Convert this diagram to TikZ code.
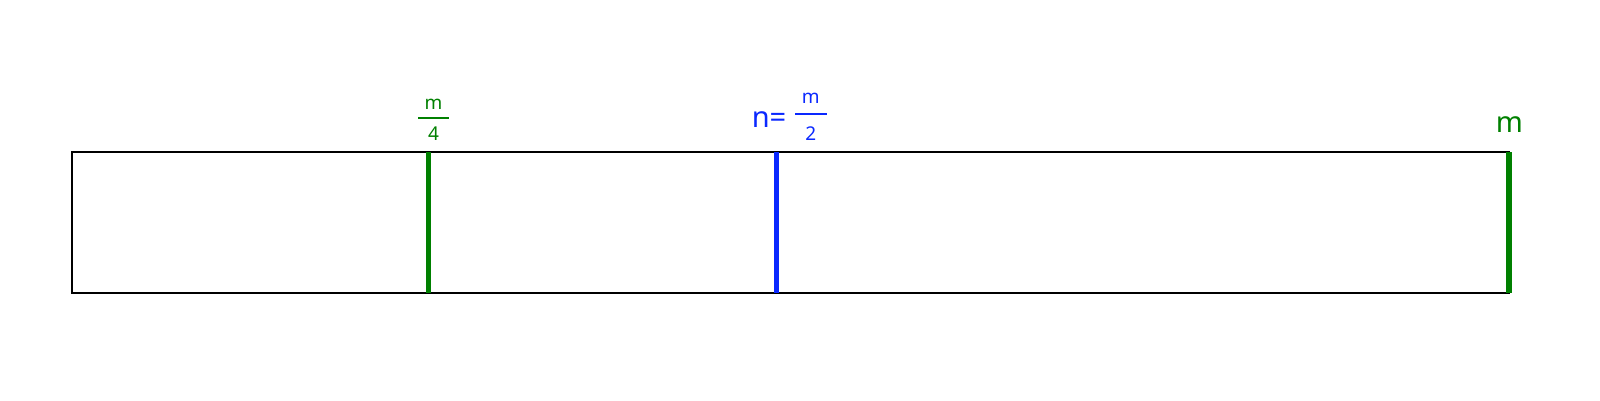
\documentclass[tikz,border=0pt]{standalone}
\usepackage{fontspec}
\setmainfont{Noto Sans}
\definecolor{tgreen}{RGB}{0,128,0}
\definecolor{tblue}{RGB}{10,40,255}
\begin{document}
\begin{tikzpicture}[x=1pt,y=-1pt,
  box/.style={draw=black,line width=2pt},
  tick/.style={line width=5.5pt},
  bigtxt/.style={inner sep=0pt,font=\fontsize{29}{34}\selectfont},
  smalltxt/.style={inner sep=0pt,font=\fontsize{19}{22}\selectfont},
  fbar/.style={line width=1.8pt}]
\useasboundingbox (0,0) rectangle (1600,400);
% bar
\coordinate (tl) at (71.7,152);
\coordinate (br) at (1509,292.7);
\draw[box] (tl) rectangle (br);
% ticks
\coordinate (q1) at (428.3,152);
\coordinate (q1b) at (428.3,292.7);
\coordinate (h1) at (776.7,152);
\coordinate (h1b) at (776.7,292.7);
\coordinate (e1) at (1509,152);
\coordinate (e1b) at (1509,292.7);
\draw[tick,tgreen] (q1) -- (q1b);
\draw[tick,tblue] (h1) -- (h1b);
\draw[tick,tgreen] (e1) -- (e1b);
% m/4 label
\node[smalltxt,text=tgreen,anchor=base] (qm) at (433.5,109.3) {m};
\node[smalltxt,text=tgreen,anchor=base] (qd) at (433.5,140.7) {4};
\draw[fbar,tgreen] (418,118.3) -- (449,118.3);
% n = m/2 label
\node[bigtxt,text=tblue,anchor=base east] (neq) at (786.5,127.3) {n=};
\node[smalltxt,text=tblue,anchor=base] (hm) at (810.8,103.3) {m};
\node[smalltxt,text=tblue,anchor=base] (hd) at (810.8,140) {2};
\draw[fbar,tblue] (795,113.7) -- (826.7,113.7);
% m label
\node[bigtxt,text=tgreen,anchor=base] (em) at (1509.5,132.3) {m};
\end{tikzpicture}
\end{document}
